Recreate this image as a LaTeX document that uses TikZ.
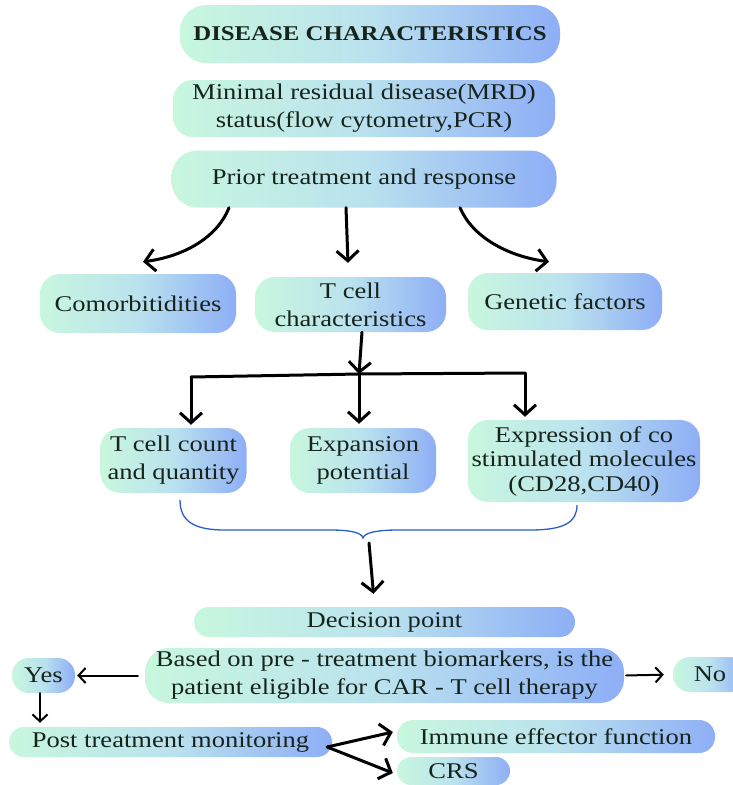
\documentclass[tikz,border=0pt]{standalone}
\usepackage{fontspec}
\setmainfont{Liberation Serif}[FakeStretch=1.18]
\usetikzlibrary{arrows.meta}
\definecolor{cL}{RGB}{200,247,222}
\definecolor{cM}{RGB}{186,226,238}
\definecolor{cR}{RGB}{142,174,246}
\definecolor{txt}{RGB}{22,36,28}
\definecolor{brc}{RGB}{40,95,200}
\begin{document}
\begin{tikzpicture}[x=1pt,y=-1pt,
  box/.style={rounded corners=20pt, left color=cL, right color=cR, middle color=cM, draw=none,
    align=center, inner sep=0pt, text=txt, font=\fontsize{22.5}{28}\selectfont},
  bigarr/.style={line width=3pt, line cap=round, -{Straight Barb[length=10pt,width=22pt]}},
  smarr/.style={line width=2pt, line cap=round, -{Straight Barb[length=7pt,width=15pt]}},
  plain/.style={line width=3pt, line cap=round},
]
\useasboundingbox (0,0) rectangle (733,785);
\fill[white] (0,0) rectangle (733,785);
\clip (0,0) rectangle (733,785);

% top column
\node[box, minimum width=380pt, minimum height=58pt, rounded corners=26pt,
  font=\fontsize{21}{26}\selectfont\bfseries] (title) at (370,34) {DISEASE CHARACTERISTICS};
\node[box, minimum width=382pt, minimum height=57pt] (mrd) at (364,108.5)
  {Minimal residual disease(MRD)\\status(flow cytometry,PCR)};
\node[box, minimum width=385pt, minimum height=57pt, rounded corners=26pt] (prior) at (364,179)
  {Prior treatment and response};

% second row
\node[box, minimum width=196pt, minimum height=59pt] (como) at (138,303.5) {Comorbitidities};
\node[box, minimum width=191pt, minimum height=55pt] (tcell) at (350.5,304.5) {T cell\\characteristics};
\node[box, minimum width=194pt, minimum height=57pt] (genetic) at (565,301.5) {Genetic factors};

% third row
\node[box, minimum width=146pt, minimum height=65pt] (count) at (173.5,460.5) {T cell count\\and quantity};
\node[box, minimum width=146pt, minimum height=65pt] (expansion) at (363,460.5) {Expansion\\potential};
\node[box, minimum width=232pt, minimum height=82pt, font=\fontsize{22.5}{24.5}\selectfont] (expression) at (584,461)
  {Expression of co\\stimulated molecules\\(CD28,CD40)};

% decision part
\node[box, minimum width=381pt, minimum height=30pt, rounded corners=15pt] (decision) at (384.5,622) {Decision point};
\node[box, minimum width=479pt, minimum height=55pt, rounded corners=24pt] (based) at (384.5,675.5)
  {Based on pre - treatment biomarkers, is the\\patient eligible for CAR - T cell therapy};
\node[box, minimum width=63pt, minimum height=35pt, rounded corners=17pt] (yes) at (43.5,675.5) {Yes};
\node[box, minimum width=74pt, minimum height=35pt, rounded corners=17pt] (no) at (710,674.5) {No};
\node[box, minimum width=323pt, minimum height=30pt, rounded corners=15pt] (post) at (170.5,742) {Post treatment monitoring};
\node[box, minimum width=318pt, minimum height=33pt, rounded corners=16pt] (immune) at (556,736.5) {Immune effector function};
\node[box, minimum width=113pt, minimum height=28pt, rounded corners=14pt] (crs) at (453.5,771) {CRS};

% arrows from prior
\draw[bigarr] ([xshift=-135pt]prior.south) .. controls (218,236) and (186,256) .. ([xshift=5pt,yshift=12pt]como.north);
\draw[bigarr] ([xshift=-18pt]prior.south) -- ([xshift=-2.5pt,yshift=14pt]tcell.north);
\draw[bigarr] ([xshift=96pt]prior.south) .. controls (472,236) and (506,256) .. ([xshift=-16pt,yshift=11pt]genetic.north);

% branching from T cell characteristics
\coordinate (j1) at (191,377);
\coordinate (j2) at (359,374);
\coordinate (j3) at (525,373);
\draw[bigarr] ([xshift=11.5pt]tcell.south) -- (j2);
\draw[plain] (j1) -- (j2) -- (j3);
\draw[bigarr, shorten >=3pt] (j1) -- (j1 |- count.north);
\draw[bigarr, shorten >=4pt] (j2) -- (j2 |- expansion.north);
\draw[bigarr, shorten >=3pt] (j3) -- (j3 |- expression.north);

% brace
\coordinate (bl) at (180,500);
\coordinate (br) at (577,505);
\coordinate (bt) at (363,538);
\draw[brc, line width=1.3pt] (bl) .. controls (180,522) and (195,530) .. (225,530) -- (330,530)
  .. controls (352,530) and (362,533) .. (bt)
  .. controls (364,533) and (376,530) .. (398,530) -- (530,530)
  .. controls (565,530) and (577,522) .. (br);

% arrow to decision
\coordinate (bs) at (369,543);
\draw[bigarr] (bs) -- ([xshift=-11pt,yshift=13pt]decision.north);

% bottom arrows
\draw[smarr, shorten <=7pt, shorten >=2pt] (based.west) -- (yes.east);
\draw[smarr, shorten <=2pt, shorten >=9pt] (based.east) -- (no.west);
\draw[smarr, shorten >=4pt] ([xshift=-3.5pt]yes.south) -- ([xshift=-3.5pt]yes.south |- post.north);
\draw[bigarr] ([xshift=-5pt,yshift=-5pt]post.east) -- ([xshift=-4pt,yshift=4.5pt]immune.west);
\draw[bigarr] ([xshift=-5pt,yshift=-5pt]post.east) -- ([xshift=-4pt,yshift=-2pt]crs.west);
\end{tikzpicture}
\end{document}
